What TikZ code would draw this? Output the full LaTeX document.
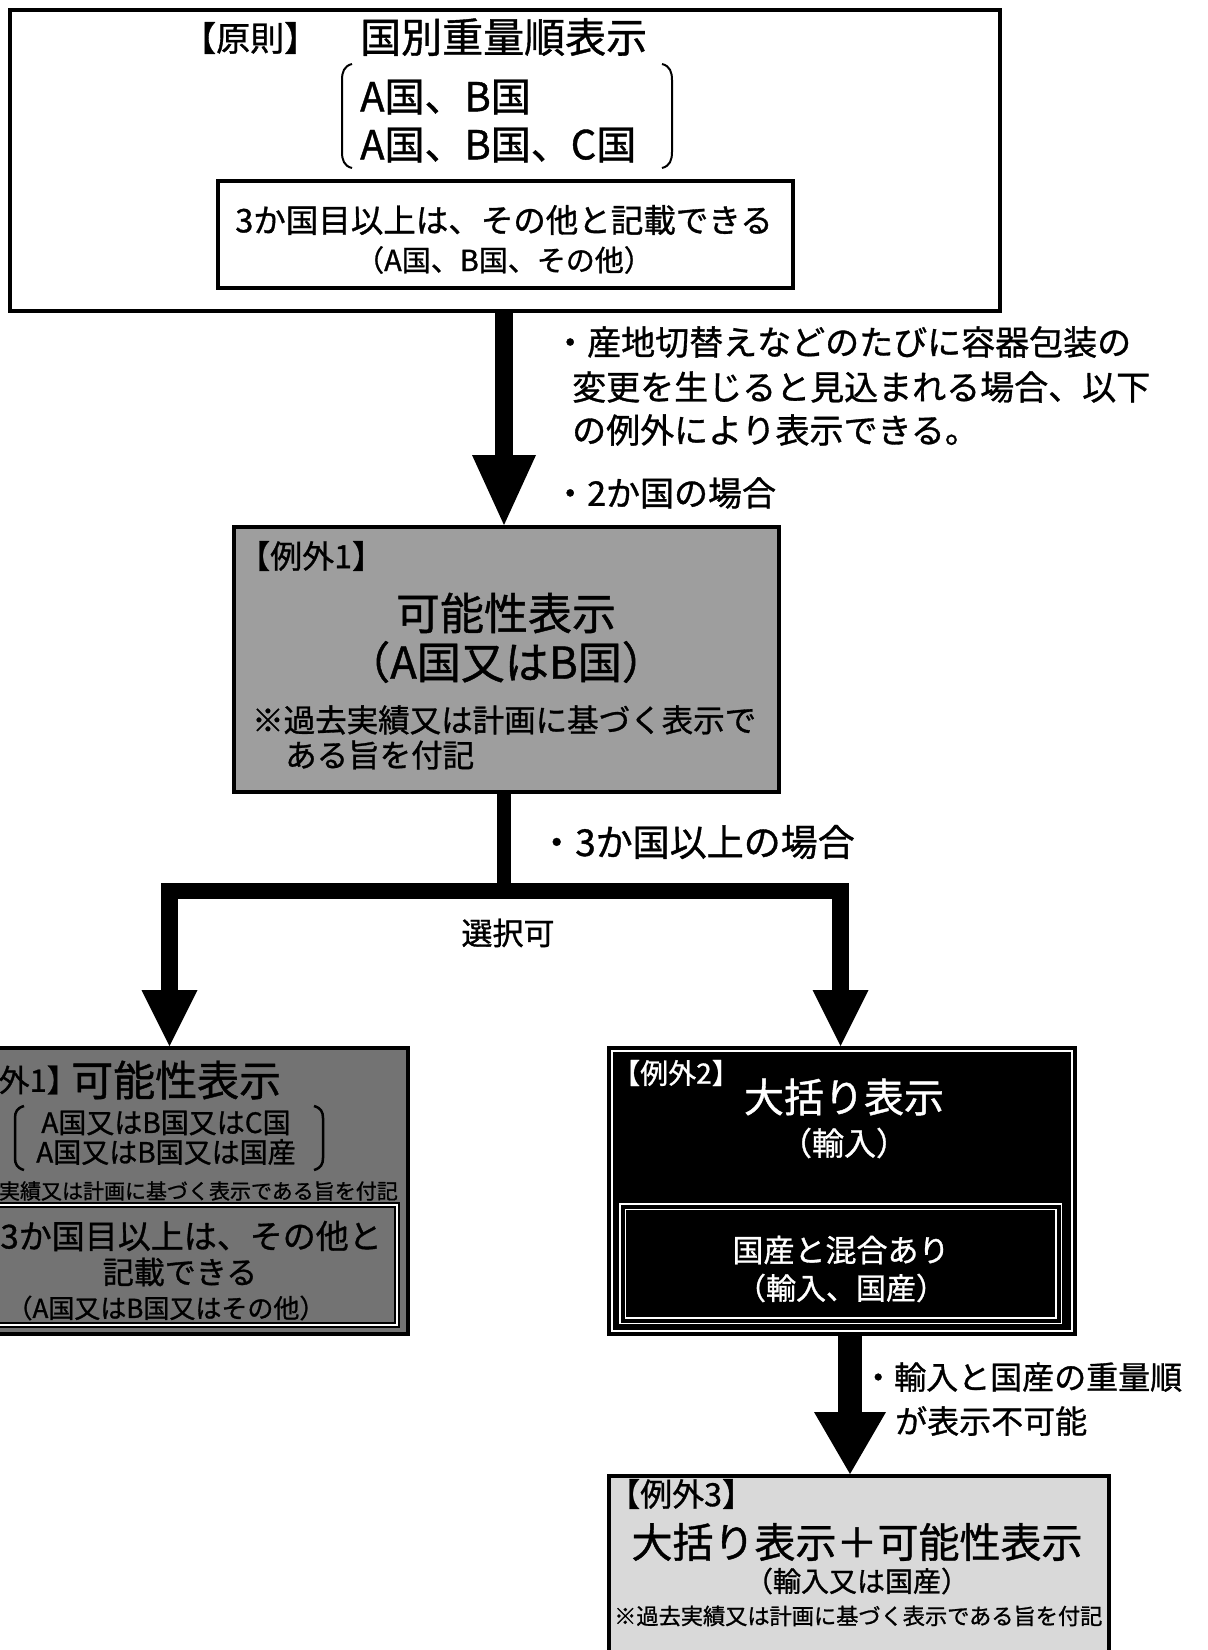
\documentclass[tikz,border=0pt]{standalone}
\usepackage{fontspec}
\setmainfont{Noto Sans CJK JP}[FakeBold=1]
\usetikzlibrary{arrows.meta,calc}
\tikzset{
  fs/.style={font=\fontsize{#1}{#1}\selectfont, inner sep=0pt},
  boxc/.style={draw=black, line width=4pt, inner sep=0pt, anchor=north west},
  wtext/.style={text=white},
  bracketline/.style={draw=black, line width=2pt},
}
\begin{document}
\begin{tikzpicture}[x=1pt,y=-1pt]
\useasboundingbox (0,0) rectangle (1208,1650);
\clip (0,0) rectangle (1208,1650);
\fill[white] (0,0) rectangle (1208,1650);

% ---------- top box (principle) ----------
\node[boxc, fill=white, minimum width=990pt, minimum height=301pt] (b0) at (8,8) {};
\node[boxc, fill=white, minimum width=575pt, minimum height=107pt] (b0i) at (216,179) {};
\node[fs=34, anchor=west] (t01) at (182,38) {【原則】};
\node[fs=41, anchor=west] (t02) at (360,37) {国別重量順表示};
\node[fs=40, anchor=west] (t03) at (360,97) {A国、B国};
\node[fs=40, anchor=west] (t04) at (360,145) {A国、B国、C国};
\draw[bracketline] (352,64) .. controls (344,66) and (342,72) .. (342,80) -- (342,152) .. controls (342,160) and (344,166) .. (352,168);
\draw[bracketline] (662,64) .. controls (670,66) and (672,72) .. (672,80) -- (672,152) .. controls (672,160) and (670,166) .. (662,168);
\node[fs=32.5] (t05) at (504,220) {3か国目以上は、その他と記載できる};
\node[fs=29] (t06) at (504,260) {（A国、B国、その他）};

% ---------- labels of first arrow ----------
\node[fs=34, anchor=west] (l1a) at (553,342) {・産地切替えなどのたびに容器包装の};
\node[fs=34, anchor=west] (l1b) at (572,387) {変更を生じると見込まれる場合、以下};
\node[fs=34, anchor=west] (l1c) at (572,430) {の例外により表示できる。};
\node[fs=34, anchor=west] (l2) at (553,493) {・2か国の場合};

% ---------- exception 1 (two countries) ----------
\node[boxc, fill=black!38, minimum width=545pt, minimum height=265pt] (b1) at (232,525) {};
\node[fs=32, anchor=west] (t11) at (238,556) {【例外1】};
\node[fs=44] (t12) at (506,613) {可能性表示};
\node[fs=44] (t13) at (506,662) {（A国又はB国）};
\node[fs=31.5, anchor=west] (t14) at (252,720) {※過去実績又は計画に基づく表示で};
\node[fs=31.5, anchor=west] (t15) at (285,755) {ある旨を付記};

% ---------- branch labels ----------
\node[fs=37, anchor=west] (l3) at (538,842) {・3か国以上の場合};
\node[fs=31] (l4) at (508,933) {選択可};

% ---------- exception 1 (three or more) ----------
\node[boxc, fill=black!55, minimum width=416pt, minimum height=286pt] (b2) at (-10,1046) {};
\node[fs=31, anchor=east] (t21) at (78,1080) {【例外1】};
\node[fs=42, anchor=west] (t22) at (71,1080) {可能性表示};
\draw[bracketline, line width=2.5pt] (24,1106) .. controls (17,1108) and (15,1112) .. (15,1118) -- (15,1158) .. controls (15,1164) and (17,1168) .. (24,1170);
\draw[bracketline, line width=2.5pt] (314,1106) .. controls (321,1108) and (323,1112) .. (323,1118) -- (323,1158) .. controls (323,1164) and (321,1168) .. (314,1170);
\node[fs=28] (t23) at (166,1123) {A国又はB国又はC国};
\node[fs=28] (t24) at (166,1152) {A国又はB国又は国産};
\node[fs=21, anchor=east] (t25) at (398,1191) {※過去実績又は計画に基づく表示である旨を付記};
\node[draw=black, line width=2pt, double=white, double distance=1.5pt, inner sep=0pt, anchor=north west, minimum width=406pt, minimum height=120pt] (b2i) at (-10,1204) {};
\node[fs=33, anchor=east] (t26) at (382,1236) {3か国目以上は、その他と};
\node[fs=31] (t27) at (180,1272) {記載できる};
\node[fs=26] (t28) at (166,1308) {（A国又はB国又はその他）};

% ---------- exception 2 ----------
\node[boxc, fill=black, minimum width=466pt, minimum height=286pt] (b3) at (607,1046) {};
\draw[white, line width=1.2pt] ($(b3.north west)+(5,5)$) rectangle ($(b3.south east)+(-5,-5)$);
\node[fs=28, wtext, anchor=west] (t31) at (612,1073) {【例外2】};
\node[fs=40, wtext] (t32) at (844,1097) {大括り表示};
\node[fs=32, wtext] (t33) at (844,1143) {（輸入）};
\node[draw=white, line width=1.2pt, double=black, double distance=4pt, inner sep=0pt, anchor=north west, minimum width=436pt, minimum height=114pt] (b3i) at (622,1206) {};
\node[fs=31, wtext] (t34) at (841,1250) {国産と混合あり};
\node[fs=30, wtext] (t35) at (841,1288) {（輸入、国産）};

% ---------- label of last arrow ----------
\node[fs=32, anchor=west] (l5a) at (862,1377) {・輸入と国産の重量順};
\node[fs=32, anchor=west] (l5b) at (895,1421) {が表示不可能};

% ---------- exception 3 ----------
\node[boxc, fill=black!15, minimum width=500pt, minimum height=190pt] (b4) at (607,1474) {};
\node[fs=32, anchor=west] (t41) at (608,1494) {【例外3】};
\node[fs=41] (t42) at (857,1542) {大括り表示＋可能性表示};
\node[fs=28] (t43) at (857,1581) {（輸入又は国産）};
\node[fs=22.2, anchor=west] (t44) at (614,1616) {※過去実績又は計画に基づく表示である旨を付記};

% ---------- connectors ----------
\coordinate (ax1) at (504,0);
\draw[line width=18pt, -{Triangle[width=64pt,length=70pt,line width=0pt]}] (ax1 |- b0.south) -- (ax1 |- b1.north);

\coordinate (jn) at (504,891);
\coordinate (barL) at (161,891);
\coordinate (barR) at (849,891);
\draw[line width=14pt] (ax1 |- b1.south) -- (jn);
\draw[line width=16pt] (barL) -- (barR);
\coordinate (axL) at (169.5,883);
\coordinate (axR) at (840.5,883);
\draw[line width=17pt, -{Triangle[width=56pt,length=56pt,line width=0pt]}] (axL) -- (axL |- b2.north);
\draw[line width=17pt, -{Triangle[width=56pt,length=56pt,line width=0pt]}] (axR) -- (axR |- b3.north);

\coordinate (ax3) at (850,0);
\draw[line width=24pt, -{Triangle[width=72pt,length=62pt,line width=0pt]}] (ax3 |- b3.south) -- (ax3 |- b4.north);
\end{tikzpicture}
\end{document}
